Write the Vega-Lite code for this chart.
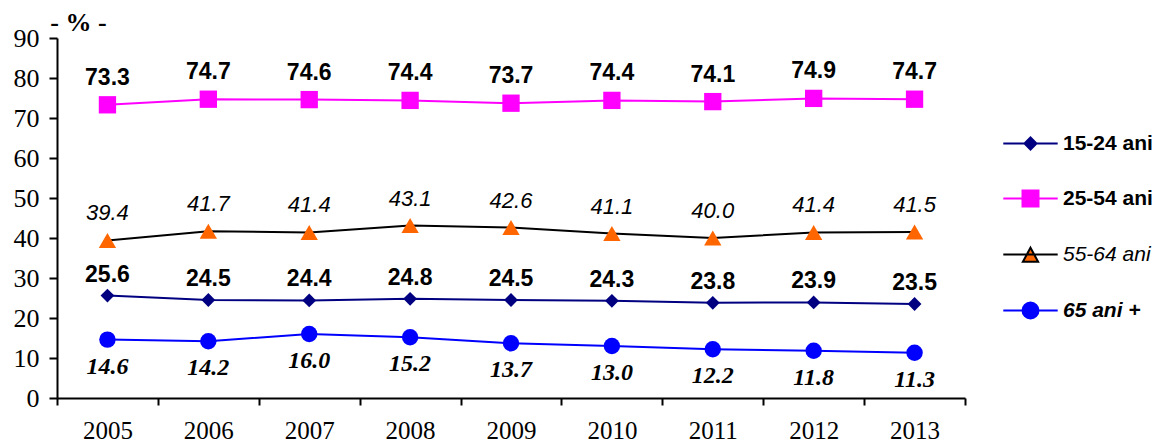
{
  "$schema": "https://vega.github.io/schema/vega-lite/v6.json",
  "width": 908,
  "height": 360,
  "autosize": {"type": "none"},
  "padding": {"left": 57, "top": 38, "right": 188, "bottom": 45},
  "background": "white",
  "config": {"view": {"stroke": null}},
  "data": {"values": [
    {"year": "2005", "series": "15-24 ani", "v": 25.6},
    {"year": "2006", "series": "15-24 ani", "v": 24.5},
    {"year": "2007", "series": "15-24 ani", "v": 24.4},
    {"year": "2008", "series": "15-24 ani", "v": 24.8},
    {"year": "2009", "series": "15-24 ani", "v": 24.5},
    {"year": "2010", "series": "15-24 ani", "v": 24.3},
    {"year": "2011", "series": "15-24 ani", "v": 23.8},
    {"year": "2012", "series": "15-24 ani", "v": 23.9},
    {"year": "2013", "series": "15-24 ani", "v": 23.5},
    {"year": "2005", "series": "25-54 ani", "v": 73.3},
    {"year": "2006", "series": "25-54 ani", "v": 74.7},
    {"year": "2007", "series": "25-54 ani", "v": 74.6},
    {"year": "2008", "series": "25-54 ani", "v": 74.4},
    {"year": "2009", "series": "25-54 ani", "v": 73.7},
    {"year": "2010", "series": "25-54 ani", "v": 74.4},
    {"year": "2011", "series": "25-54 ani", "v": 74.1},
    {"year": "2012", "series": "25-54 ani", "v": 74.9},
    {"year": "2013", "series": "25-54 ani", "v": 74.7},
    {"year": "2005", "series": "55-64 ani", "v": 39.4},
    {"year": "2006", "series": "55-64 ani", "v": 41.7},
    {"year": "2007", "series": "55-64 ani", "v": 41.4},
    {"year": "2008", "series": "55-64 ani", "v": 43.1},
    {"year": "2009", "series": "55-64 ani", "v": 42.6},
    {"year": "2010", "series": "55-64 ani", "v": 41.1},
    {"year": "2011", "series": "55-64 ani", "v": 40.0},
    {"year": "2012", "series": "55-64 ani", "v": 41.4},
    {"year": "2013", "series": "55-64 ani", "v": 41.5},
    {"year": "2005", "series": "65 ani +", "v": 14.6},
    {"year": "2006", "series": "65 ani +", "v": 14.2},
    {"year": "2007", "series": "65 ani +", "v": 16.0},
    {"year": "2008", "series": "65 ani +", "v": 15.2},
    {"year": "2009", "series": "65 ani +", "v": 13.7},
    {"year": "2010", "series": "65 ani +", "v": 13.0},
    {"year": "2011", "series": "65 ani +", "v": 12.2},
    {"year": "2012", "series": "65 ani +", "v": 11.8},
    {"year": "2013", "series": "65 ani +", "v": 11.3}
  ]},
  "encoding": {
    "x": {
      "field": "year", "type": "ordinal",
      "scale": {"type": "band", "paddingInner": 0, "paddingOuter": 0},
      "axis": {
        "title": null, "labelAngle": 0, "tickBand": "extent",
        "domainColor": "black", "domainWidth": 2, "tickColor": "black", "tickWidth": 2, "tickSize": 7,
        "labelFont": "Liberation Serif", "labelFontSize": 25, "labelColor": "black", "labelPadding": 13
      }
    },
    "y": {
      "field": "v", "type": "quantitative",
      "scale": {"domain": [0, 90], "nice": false, "zero": true},
      "axis": {
        "values": [0, 10, 20, 30, 40, 50, 60, 70, 80, 90], "grid": false,
        "domainColor": "black", "domainWidth": 2, "tickColor": "black", "tickWidth": 2, "tickSize": 8,
        "labelFont": "Liberation Serif", "labelFontSize": 26, "labelColor": "black", "labelPadding": 10,
        "title": "- % -", "titleAngle": 0, "titleX": 21, "titleY": -16, "titleAlign": "center", "titleBaseline": "middle",
        "titleFont": "Liberation Serif", "titleFontSize": 26, "titleFontWeight": "bold", "titleColor": "black"
      }
    }
  },
  "layer": [
    {
      "transform": [{"filter": "datum.series == '15-24 ani'"}],
      "mark": {"type": "line", "strokeWidth": 2, "color": "#000080"},
      "encoding": {}
    },
    {
      "transform": [{"filter": "datum.series == '25-54 ani'"}],
      "mark": {"type": "line", "strokeWidth": 2, "color": "#FF00FF"},
      "encoding": {}
    },
    {
      "transform": [{"filter": "datum.series == '55-64 ani'"}],
      "mark": {"type": "line", "strokeWidth": 2, "color": "#000000"},
      "encoding": {}
    },
    {
      "transform": [{"filter": "datum.series == '65 ani +'"}],
      "mark": {"type": "line", "strokeWidth": 2, "color": "#0000FF"},
      "encoding": {}
    },
    {
      "transform": [{"filter": "datum.series == '15-24 ani'"}],
      "mark": {"type": "point", "shape": "diamond", "filled": true, "opacity": 1, "color": "#000080", "size": 190}
    },
    {
      "transform": [{"filter": "datum.series == '25-54 ani'"}],
      "mark": {"type": "point", "shape": "square", "filled": true, "opacity": 1, "color": "#FF00FF", "size": 300}
    },
    {
      "transform": [{"filter": "datum.series == '55-64 ani'"}],
      "mark": {"type": "point", "shape": "triangle-up", "filled": true, "opacity": 1, "color": "#FF6600", "size": 300}
    },
    {
      "transform": [{"filter": "datum.series == '65 ani +'"}],
      "mark": {"type": "point", "shape": "circle", "filled": true, "opacity": 1, "color": "#0000FF", "size": 270}
    },
    {
      "transform": [{"filter": "datum.series == '25-54 ani'"}],
      "mark": {"type": "text", "font": "Liberation Sans", "fontSize": 23, "fontWeight": "bold", "dy": -27, "color": "black"},
      "encoding": {"text": {"field": "v", "type": "quantitative", "format": ".1f"}}
    },
    {
      "transform": [{"filter": "datum.series == '15-24 ani'"}],
      "mark": {"type": "text", "font": "Liberation Sans", "fontSize": 23, "fontWeight": "bold", "dy": -21, "color": "black"},
      "encoding": {"text": {"field": "v", "type": "quantitative", "format": ".1f"}}
    },
    {
      "transform": [{"filter": "datum.series == '55-64 ani'"}],
      "mark": {"type": "text", "font": "Liberation Sans", "fontSize": 22, "fontStyle": "italic", "dy": -27, "color": "black"},
      "encoding": {"text": {"field": "v", "type": "quantitative", "format": ".1f"}}
    },
    {
      "transform": [{"filter": "datum.series == '65 ani +'"}],
      "mark": {"type": "text", "font": "Liberation Serif", "fontSize": 24, "fontStyle": "italic", "fontWeight": "bold", "dy": 27, "color": "black"},
      "encoding": {"text": {"field": "v", "type": "quantitative", "format": ".1f"}}
    },
    {
      "mark": {"type": "point", "filled": true, "opacity": 0, "strokeWidth": 2, "size": 256},
      "encoding": {
        "shape": {"field": "series", "type": "nominal",
          "scale": {"domain": ["15-24 ani", "25-54 ani", "55-64 ani", "65 ani +"],
            "range": [
              "M-3.4,0L3.4,0M-0.75,0L0,-0.75L0.75,0L0,0.75Z",
              "M-3.4,0L3.4,0M-1,-1L1,-1L1,1L-1,1Z",
              "M-3.4,0L3.4,0M0,-0.85L0.95,0.9L-0.95,0.9Z",
              "M-3.4,0L3.4,0M-1,0A1,1,0,1,1,1,0A1,1,0,1,1,-1,0Z"
            ]},
          "legend": {
            "title": null, "orient": "none", "legendX": 963, "legendY": 95, "padding": 0,
            "symbolSize": 256, "symbolStrokeWidth": 2, "symbolOpacity": 1, "labelOffset": 22, "rowPadding": 32,
            "labelFont": "Liberation Sans", "labelFontSize": 21, "labelColor": "black", "labelLimit": 0,
            "labelFontWeight": {"expr": "datum.label == '55-64 ani' ? 'normal' : 'bold'"},
            "labelFontStyle": {"expr": "(datum.label == '55-64 ani' || datum.label == '65 ani +') ? 'italic' : 'normal'"}
          }},
        "fill": {"field": "series", "type": "nominal",
          "scale": {"domain": ["15-24 ani", "25-54 ani", "55-64 ani", "65 ani +"], "range": ["#000080", "#FF00FF", "#FF6600", "#0000FF"]}},
        "stroke": {"field": "series", "type": "nominal",
          "scale": {"domain": ["15-24 ani", "25-54 ani", "55-64 ani", "65 ani +"], "range": ["#000080", "#FF00FF", "#000000", "#0000FF"]}}
      }
    }
  ]
}
